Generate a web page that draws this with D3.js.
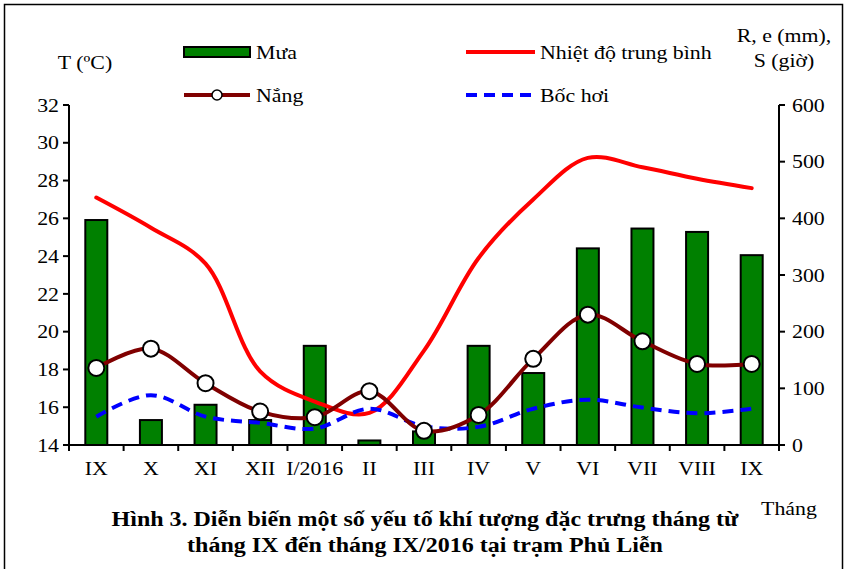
<!DOCTYPE html>
<html><head><meta charset="utf-8">
<script src="https://cdn.jsdelivr.net/npm/d3@7/dist/d3.min.js"></script>
<style>body{margin:0;background:#fff}svg{display:block}text{font-family:"Liberation Serif","Times New Roman",serif;fill:#000}</style>
</head><body>
<script>
const months = ["IX","X","XI","XII","I/2016","II","III","IV","V","VI","VII","VIII","IX"];
const rain = [397, 44, 71, 44, 175, 8, 24, 175, 127, 347, 382, 376, 335];
const temperature = [27.1, 25.5, 23.6, 17.9, 16.3, 15.7, 19.0, 23.9, 27.0, 29.2, 28.7, 28.1, 27.6];
const sunshine = [136, 170, 109, 59, 49, 95, 25, 53, 152, 230, 183, 143, 143];
const evaporation = [50, 88, 50, 39, 29, 64, 33, 32, 64, 80, 66, 56, 64];
const leftTicks = [14,16,18,20,22,24,26,28,30,32];
const rightTicks = [0,100,200,300,400,500,600];

const W = 846, H = 569;
const svg = d3.select("body").append("svg").attr("width", W).attr("height", H);
svg.append("rect").attr("x",4.5).attr("y",4.5).attr("width",838).attr("height",H+10)
  .attr("fill","none").attr("stroke","#000").attr("stroke-width",1.5);

const L = 69, R = 779, T = 105, B = 445;
const idx = months.map((d,i)=>i);
const xb = d3.scaleBand().domain(idx).range([L,R]);
const yL = d3.scaleLinear().domain([14,32]).range([B,T]);
const yR = d3.scaleLinear().domain([0,600]).range([B,T]);
const cx = i => xb(i) + xb.bandwidth()/2;

// text helper: horizontally stretched text as in the reference
const SX = 1.15;
function txt(parent, x, y, s, anchor, size, weight, sx) {
  const g = parent.append("g").attr("transform", `translate(${x},${y}) scale(${sx||SX},1)`);
  g.append("text").attr("dy","0.35em").attr("text-anchor",anchor||"start")
    .attr("font-size",size||19).attr("font-weight",weight||"normal").text(s);
  return g;
}

// bars
svg.append("g").selectAll("rect").data(rain).join("rect")
  .attr("x",(d,i)=>cx(i)-11).attr("width",22)
  .attr("y",d=>yR(d)).attr("height",d=>B-yR(d))
  .attr("fill","#008000").attr("stroke","#000").attr("stroke-width",2);

const curve = d3.curveCatmullRom.alpha(0.5);
svg.append("path").datum(temperature)
  .attr("d", d3.line().x((d,i)=>cx(i)).y(d=>yL(d)).curve(curve))
  .attr("fill","none").attr("stroke","#ff0000").attr("stroke-width",4).attr("stroke-linecap","round");
svg.append("path").datum(evaporation)
  .attr("d", d3.line().x((d,i)=>cx(i)).y(d=>yR(d)).curve(curve))
  .attr("fill","none").attr("stroke","#0000ff").attr("stroke-width",4).attr("stroke-dasharray","11,7");
svg.append("path").datum(sunshine)
  .attr("d", d3.line().x((d,i)=>cx(i)).y(d=>yR(d)).curve(curve))
  .attr("fill","none").attr("stroke","#800000").attr("stroke-width",4);
svg.append("g").selectAll("circle").data(sunshine).join("circle")
  .attr("cx",(d,i)=>cx(i)).attr("cy",d=>yR(d)).attr("r",8)
  .attr("fill","#fff").attr("stroke","#000").attr("stroke-width",2);

// axes
const ax = svg.append("g").attr("stroke","#000").attr("stroke-width",2);
ax.append("line").attr("x1",L).attr("x2",L).attr("y1",T).attr("y2",B+1);
ax.append("line").attr("x1",R).attr("x2",R).attr("y1",T).attr("y2",B+1);
ax.append("line").attr("x1",L-1).attr("x2",R+1).attr("y1",B).attr("y2",B);
leftTicks.forEach(t=>{ ax.append("line").attr("x1",L-6).attr("x2",L).attr("y1",yL(t)).attr("y2",yL(t)); });
rightTicks.forEach(t=>{ ax.append("line").attr("x1",R).attr("x2",R+6).attr("y1",yR(t)).attr("y2",yR(t)); });
idx.concat([13]).forEach(i=>{ const xx = i<13? xb(i) : R; ax.append("line").attr("x1",xx).attr("x2",xx).attr("y1",B).attr("y2",B+6); });

const tg = svg.append("g");
leftTicks.forEach(t=>txt(tg, 59, yL(t), t, "end"));
rightTicks.forEach(t=>txt(tg, 792, yR(t), t, "start"));
months.forEach((m,i)=>txt(tg, cx(i), 468, m, "middle"));

// axis titles
txt(svg, 85, 62, "T (ºC)", "middle");
txt(svg, 784, 35, "R, e (mm),", "middle");
txt(svg, 784, 60, "S (giờ)", "middle");
txt(svg, 789, 508, "Tháng", "middle");

// legend
const lg = svg.append("g");
lg.append("rect").attr("x",184).attr("y",47).attr("width",66).attr("height",10).attr("fill","#008000").attr("stroke","#000").attr("stroke-width",2);
txt(lg, 256, 52, "Mưa");
lg.append("line").attr("x1",466).attr("x2",535).attr("y1",52).attr("y2",52).attr("stroke","#ff0000").attr("stroke-width",4);
txt(lg, 540, 52, "Nhiệt độ trung bình");
lg.append("line").attr("x1",184).attr("x2",250).attr("y1",95).attr("y2",95).attr("stroke","#800000").attr("stroke-width",4);
lg.append("circle").attr("cx",217).attr("cy",95).attr("r",5).attr("fill","#fff").attr("stroke","#000").attr("stroke-width",1.5);
txt(lg, 256, 95, "Nắng");
lg.append("line").attr("x1",466).attr("x2",535).attr("y1",95).attr("y2",95).attr("stroke","#0000ff").attr("stroke-width",4).attr("stroke-dasharray","11,7");
txt(lg, 540, 95, "Bốc hơi");

// caption
txt(svg, 425, 519, "Hình 3. Diễn biến một số yếu tố khí tượng đặc trưng tháng từ", "middle", 20, "bold", 1.2);
txt(svg, 425, 545, "tháng IX đến tháng IX/2016 tại trạm Phủ Liễn", "middle", 20, "bold", 1.2);
</script>
</body></html>
